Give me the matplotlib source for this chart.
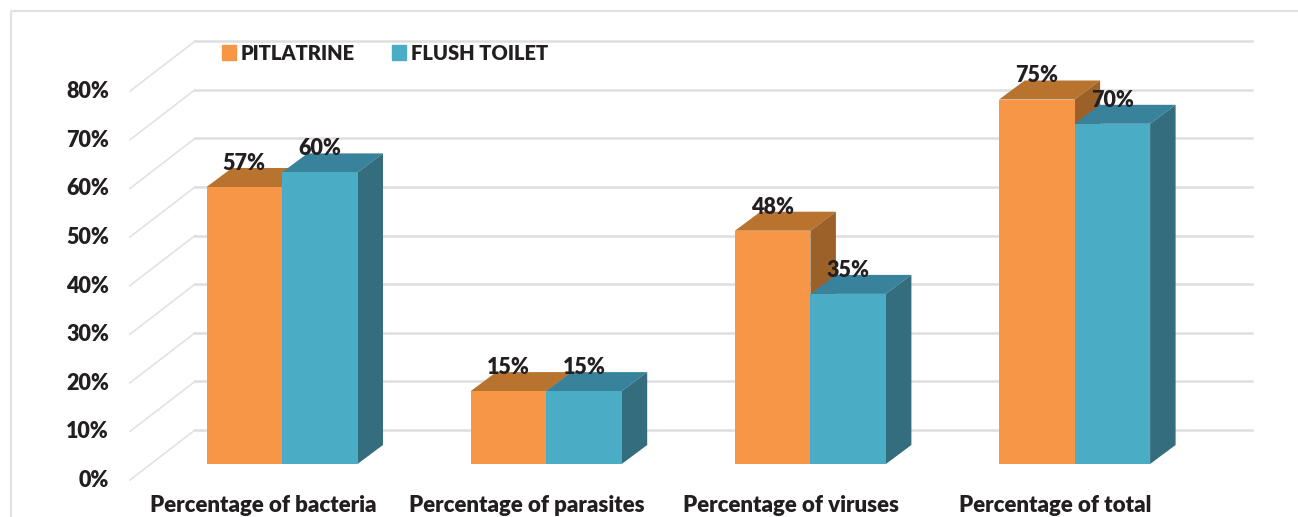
"""3-D style clustered bars: contamination share by toilet type."""
import matplotlib
matplotlib.use("Agg")
import matplotlib.pyplot as plt
from matplotlib.patches import Patch

CATEGORIES = ["Percentage of bacteria", "Percentage of parasites",
              "Percentage of viruses", "Percentage of total"]
PIT_LATRINE = [57, 15, 48, 75]
FLUSH_TOILET = [60, 15, 35, 70]
Y_TICKS = [0, 10, 20, 30, 40, 50, 60, 70, 80]

W, H = 1298, 517
X0, XSTEP = 282.0, 264.2   # px position of first cluster, px per category
Y0, YSTEP = 464.0, 4.86    # px position of zero, px per percent
BAR_W = 75.5 / XSTEP
DX, DY = 25.5 / XSTEP, 19 / YSTEP   # bar depth in data units

TEXT = "#231f20"
GRID = "#dedede"
ORANGE = ("#f79646", "#b8732f", "#9c6129")
BLUE = ("#4bacc6", "#38829c", "#336d7e")
FS = 15.5

plt.rcParams["font.family"] = ["Lato", "DejaVu Sans"]
plt.rcParams["font.weight"] = "heavy"


def px_x(p):
    return (p - X0) / XSTEP


def px_y(p):
    return (Y0 - p) / YSTEP


def draw_bar(ax, x, v, colors, z):
    front, top, side = colors
    ax.bar(x, v, BAR_W, align="edge", color=front, zorder=z + 1)
    ax.fill([x, x + BAR_W, x + BAR_W + DX, x + DX], [v, v, v + DY, v + DY],
            color=top, lw=0, zorder=z)
    ax.fill([x + BAR_W, x + BAR_W + DX, x + BAR_W + DX, x + BAR_W],
            [0, DY, v + DY, v], color=side, lw=0, zorder=z)


fig = plt.figure(figsize=(W / 100, H / 100), dpi=100)
ax = fig.add_axes([0, 0, 1, 1])
ax.set_xlim(px_x(0), px_x(W))
ax.set_ylim(px_y(H), px_y(0))
ax.axis("off")

# outer chart frame, open on the right and cut at the bottom
ax.plot([px_x(10.5), px_x(10.5), px_x(W)], [px_y(H), px_y(10.5), px_y(10.5)],
        color="#e2e2e2", lw=1.6, zorder=1)

# floor diagonals and back wall lines
for t in Y_TICKS:
    y_back = px_y(430) + t
    y_front = px_y(480) + t
    ax.plot([px_x(130), px_x(195)], [y_front, y_back], color="#e2e2e2", lw=1.2, zorder=1)
    ax.plot([px_x(195), px_x(1252)], [y_back, y_back], color=GRID, lw=1.8, zorder=1)
    ax.text(px_x(109), px_y(480.5) + t, f"{t}%", ha="right", va="center",
            fontsize=FS, color=TEXT, zorder=8)

for i, name in enumerate(CATEGORIES):
    draw_bar(ax, i - BAR_W, PIT_LATRINE[i], ORANGE, 3 + i * 3)
    draw_bar(ax, i, FLUSH_TOILET[i], BLUE, 4 + i * 3)
    ax.text(i - 19 / XSTEP, px_y(512.5), name, ha="center", va="baseline",
            fontsize=16, color=TEXT, zorder=30)
    for x, v in ((i - BAR_W / 2, PIT_LATRINE[i]), (i + BAR_W / 2, FLUSH_TOILET[i])):
        # value sits on the bar's top face
        ax.text(x, v + 23.5 / YSTEP, f"{v}%", ha="center", va="center",
                fontsize=FS, color=TEXT, zorder=30)

handles = [Patch(color=ORANGE[0], label="PITLATRINE"), Patch(color=BLUE[0], label="FLUSH TOILET")]
ax.legend(handles=handles, ncol=2, frameon=False, loc="center left",
          bbox_to_anchor=(203.5 / W, 1 - 53 / H), fontsize=14.5, labelcolor=TEXT,
          handlelength=0.7, handleheight=0.7, handletextpad=0.25, columnspacing=1.85)

fig.savefig("out.png", dpi=100)
